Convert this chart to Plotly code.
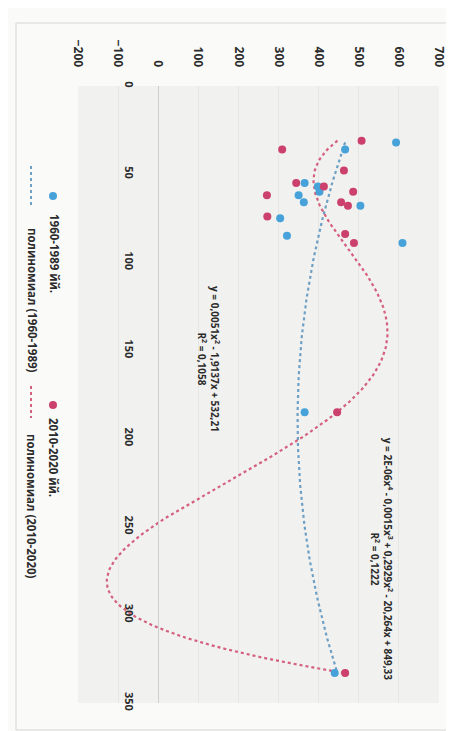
"""Scatter of two periods with polynomial trendlines, drawn rotated
90 degrees clockwise like the scanned original (value axis across the
top, category axis running down)."""

import numpy as np
import plotly.graph_objects as go

# --- data -------------------------------------------------------------
x_1960 = [32, 36, 55, 57, 60, 62, 66, 68, 75, 85, 89, 185, 333]
y_1960 = [593, 466, 365, 398, 402, 350, 363, 504, 304, 321, 609, 365, 440]

x_2010 = [31, 36, 48, 55, 57, 60, 62, 66, 68, 74, 84, 89, 185, 333]
y_2010 = [507, 309, 463, 344, 413, 486, 271, 456, 473, 272, 466, 488, 446, 466]

value_ticks = [-200, -100, 0, 100, 200, 300, 400, 500, 600, 700]
x_ticks = [0, 50, 100, 150, 200, 250, 300, 350]

name_1960 = "1960-1989 йй."
name_2010 = "2010-2020 йй."
trend_1960 = "полиномиал (1960-1989)"
trend_2010 = "полиномиал (2010-2020)"
eq_1960 = "y = 0,0051x<sup>2</sup> - 1,9137x + 532,21<br>R<sup>2</sup> = 0,1058"
eq_2010 = ("y = 2E-06x<sup>4</sup> - 0,0015x<sup>3</sup> + 0,2929x<sup>2</sup>"
           " - 20,264x + 849,33<br>R<sup>2</sup> = 0,1222")

BLUE = "#48A2DA"
RED = "#CC416B"
BLUE_TR = "#6E9FC4"
RED_TR = "#D4607E"
INK = "#2B2B2B"
FONT = "Open Sans"


def trend(xs, ys, deg):
    """Excel-style polynomial trendline over the data range."""
    coef = np.polyfit(xs, ys, deg)
    xx = np.linspace(min(xs), max(xs), 200)
    return xx, np.polyval(coef, xx)


fig = go.Figure()

# rotated: horizontal axis carries the values, vertical axis the x data
tx, ty = trend(x_1960, y_1960, 2)
fig.add_scatter(x=ty, y=tx, mode="lines", line=dict(color=BLUE_TR, width=2.2, dash="dot"),
                hoverinfo="skip")
tx, ty = trend(x_2010, y_2010, 4)
fig.add_scatter(x=ty, y=tx, mode="lines", line=dict(color=RED_TR, width=2.2, dash="dot"),
                hoverinfo="skip")
fig.add_scatter(x=y_1960, y=x_1960, mode="markers", name=name_1960,
                marker=dict(color=BLUE, size=8))
fig.add_scatter(x=y_2010, y=x_2010, mode="markers", name=name_2010,
                marker=dict(color=RED, size=8))

# trendline equations, written down the page
eq_font = dict(family=FONT, size=10, color=INK, weight="bold")
fig.add_annotation(x=557, y=268, text=eq_2010, textangle=90, showarrow=False,
                   xanchor="center", yanchor="middle", font=eq_font)
fig.add_annotation(x=127, y=155, text=eq_1960, textangle=90, showarrow=False,
                   xanchor="center", yanchor="middle", font=eq_font)

# hand-made rotated legend (pixel positions converted to paper space)
L, T, W, H = 70, 78, 361, 617


def px(xp):
    return (xp - L) / W


def py(yp):
    return 1 - (yp - T) / H


legend_font = dict(family=FONT, size=11.5, color=INK, weight="bold")
for col_x, y0, color in [(45, 188, BLUE), (45, 397, RED)]:
    fig.add_shape(type="circle", xref="paper", yref="paper",
                  x0=px(col_x - 4), x1=px(col_x + 4), y0=py(y0 - 4), y1=py(y0 + 4),
                  fillcolor=color, line=dict(width=0))
for y0, y1, color in [(158, 197, BLUE_TR), (378, 410, RED_TR)]:
    fig.add_shape(type="line", xref="paper", yref="paper",
                  x0=px(23), x1=px(23), y0=py(y0), y1=py(y1),
                  line=dict(color=color, width=2, dash="dot"))
for text, xc, yc in [(name_1960, 46, 245), (name_2010, 46, 449),
                     (trend_1960, 24, 292), (trend_2010, 24, 498)]:
    fig.add_annotation(xref="paper", yref="paper", x=px(xc), y=py(yc), text=text,
                       textangle=90, showarrow=False, xanchor="center",
                       yanchor="middle", font=legend_font)

# chart border
fig.add_shape(type="rect", xref="paper", yref="paper",
              x0=px(8), x1=px(447), y0=py(15), y1=py(722),
              line=dict(color="#D6D6D6", width=1), layer="below")

fig.update_layout(
    width=454, height=731,
    margin=dict(l=L, r=454 - L - W, t=T, b=731 - T - H),
    paper_bgcolor="#FAFAF8", plot_bgcolor="#F1F1EF",
    showlegend=False,
    font=dict(family=FONT, color=INK),
    xaxis=dict(range=[-200, 700], side="top", tickvals=value_ticks,
               tickangle=90, showgrid=True, gridcolor="#E6E6E4",
               zeroline=False, showline=False, ticks="", ticklabelstandoff=16,
               tickfont=dict(size=12, weight="bold")),
    yaxis=dict(range=[350, 0], tickvals=x_ticks, tickangle=90,
               anchor="free", position=200 / 900, showgrid=False,
               zeroline=False, showline=True, linecolor="#CFCFCF", ticks="",
               ticklabelstandoff=20, tickfont=dict(size=11, weight="bold")),
)

fig.write_html("out.html")
